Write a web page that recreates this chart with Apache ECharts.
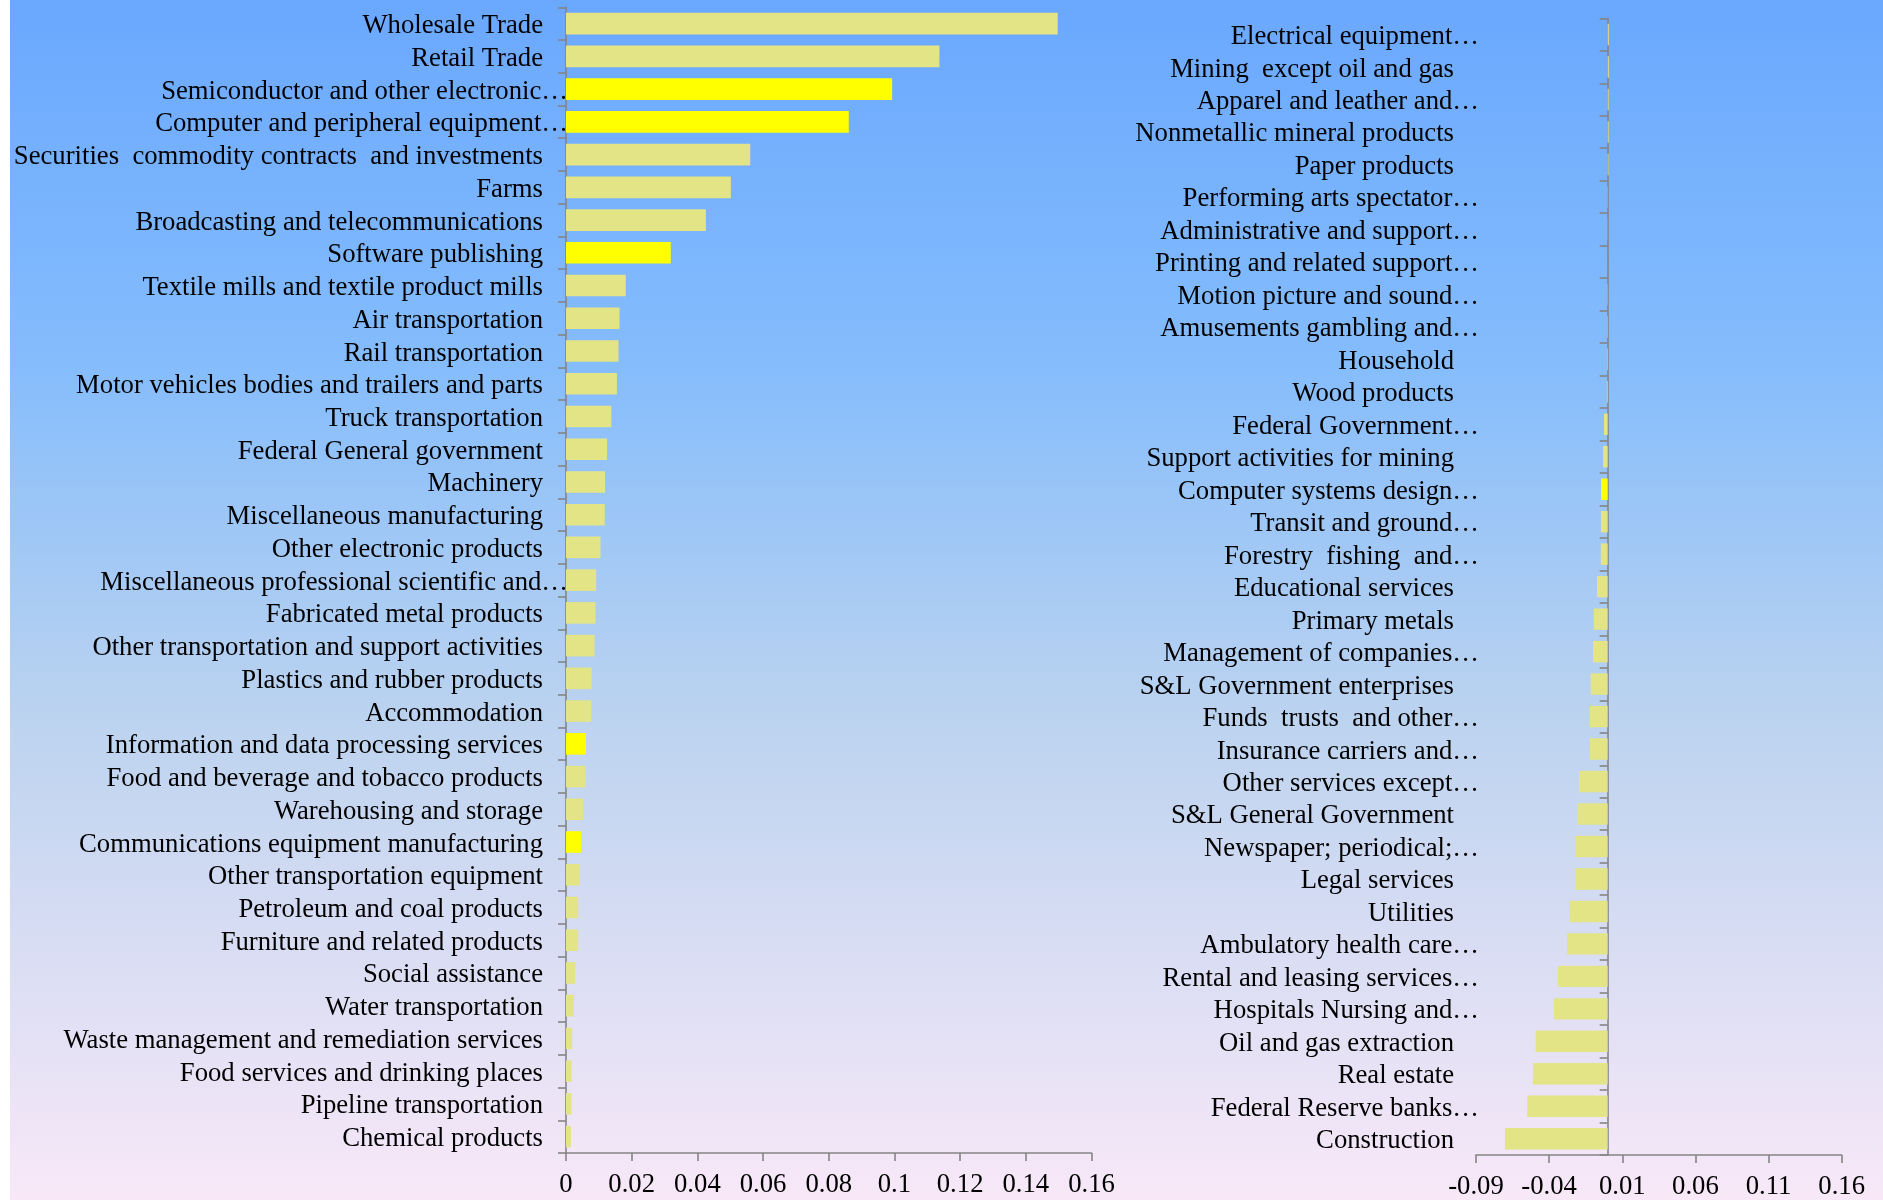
<!DOCTYPE html>
<html>
<head>
<meta charset="utf-8">
<script src="https://cdn.jsdelivr.net/npm/echarts@6/dist/echarts.min.js"></script>
<style>
  html, body { margin: 0; padding: 0; background: #ffffff; }
  #main { position: absolute; left: 10px; top: 0; width: 1873px; height: 1200px; }
</style>
</head>
<body>
<div id="main"></div>
<script>
// industries with positive contribution (left panel)
var leftCategories = [
    'Wholesale Trade', 'Retail Trade', 'Semiconductor and other electronic…',
    'Computer and peripheral equipment…', 'Securities  commodity contracts  and investments',
    'Farms', 'Broadcasting and telecommunications', 'Software publishing',
    'Textile mills and textile product mills', 'Air transportation', 'Rail transportation',
    'Motor vehicles bodies and trailers and parts', 'Truck transportation',
    'Federal General government', 'Machinery', 'Miscellaneous manufacturing',
    'Other electronic products', 'Miscellaneous professional scientific and…',
    'Fabricated metal products', 'Other transportation and support activities',
    'Plastics and rubber products', 'Accommodation', 'Information and data processing services',
    'Food and beverage and tobacco products', 'Warehousing and storage',
    'Communications equipment manufacturing', 'Other transportation equipment',
    'Petroleum and coal products', 'Furniture and related products', 'Social assistance',
    'Water transportation', 'Waste management and remediation services',
    'Food services and drinking places', 'Pipeline transportation', 'Chemical products'
];
var leftValues = [
    0.1497, 0.1137, 0.0993, 0.0861, 0.0561, 0.0502, 0.0426, 0.0319, 0.0182, 0.0163,
    0.0160, 0.0155, 0.0138, 0.0125, 0.0119, 0.0118, 0.0105, 0.0092, 0.0090, 0.0087,
    0.0078, 0.0077, 0.0061, 0.0059, 0.0052, 0.0046, 0.0043, 0.0037, 0.0037, 0.0028,
    0.0024, 0.0019, 0.0017, 0.0017, 0.0015
];
var leftHighlight = [
    'Semiconductor and other electronic…', 'Computer and peripheral equipment…',
    'Software publishing', 'Information and data processing services',
    'Communications equipment manufacturing'
];

// industries near zero / negative (right panel)
var rightCategories = [
    'Electrical equipment…', 'Mining  except oil and gas', 'Apparel and leather and…',
    'Nonmetallic mineral products', 'Paper products', 'Performing arts spectator…',
    'Administrative and support…', 'Printing and related support…', 'Motion picture and sound…',
    'Amusements gambling and…', 'Household', 'Wood products', 'Federal Government…',
    'Support activities for mining', 'Computer systems design…', 'Transit and ground…',
    'Forestry  fishing  and…', 'Educational services', 'Primary metals',
    'Management of companies…', 'S&L Government enterprises', 'Funds  trusts  and other…',
    'Insurance carriers and…', 'Other services except…', 'S&L General Government',
    'Newspaper; periodical;…', 'Legal services', 'Utilities', 'Ambulatory health care…',
    'Rental and leasing services…', 'Hospitals Nursing and…', 'Oil and gas extraction',
    'Real estate', 'Federal Reserve banks…', 'Construction'
];
var rightValues = [
    0.0008, 0.0008, 0.0007, 0.0007, 0.0006, 0.0002, 0.0001, 0.0000, -0.0002, -0.0003,
    -0.0004, -0.0005, -0.0025, -0.0031, -0.0045, -0.0046, -0.0047, -0.0073, -0.0095, -0.0100,
    -0.0116, -0.0121, -0.0122, -0.0196, -0.0205, -0.0221, -0.0222, -0.0260, -0.0278, -0.0340,
    -0.0367, -0.0492, -0.0511, -0.0550, -0.0702
];
var rightHighlight = ['Computer systems design…'];

var rightTicks = [-0.09, -0.04, 0.01, 0.06, 0.11, 0.16];

var dom = document.getElementById('main');
var myChart = echarts.init(dom, null, { renderer: 'canvas' });

var font = "'Liberation Serif', 'Times New Roman', serif";
var fs = 26.7;
var axisGray = '#858585';
var barColor = '#e3e486';
var hiColor = '#ffff00';

function catLabel(v) {
    // labels cut with an ellipsis sit a bit further right than full ones
    if (v.slice(-1) === '…') return '{e|' + v + '}';
    return '{n|' + v + '}';
}
var richText = {
    e: { fontSize: fs, fontFamily: font, color: '#000', padding: [5, 0, 0, 0] },
    n: { fontSize: fs, fontFamily: font, color: '#000', padding: [5, 25, 0, 0] }
};

function barData(cats, vals, hi) {
    return vals.map(function (v, i) {
        return {
            value: v,
            itemStyle: { color: hi.indexOf(cats[i]) >= 0 ? hiColor : barColor }
        };
    });
}

option = {
    backgroundColor: new echarts.graphic.LinearGradient(0, 0, 0, 1, [
        { offset: 0, color: '#6aa8fe' },
        { offset: 0.3, color: '#84bcfc' },
        { offset: 0.6, color: '#bcd3ef' },
        { offset: 1, color: '#f8e8f8' }
    ]),
    animation: false,
    grid: [
        { left: 556, top: 7.3, width: 525.5, height: 1145.7, containLabel: false, outerBoundsMode: 'none' },
        { left: 1466, top: 18.3, width: 365.7, height: 1136.7, containLabel: false, outerBoundsMode: 'none' }
    ],
    xAxis: [
        {
            gridIndex: 0,
            type: 'value',
            min: 0,
            max: 0.16,
            interval: 0.02,
            splitLine: { show: false },
            axisLine: { show: true, onZero: false, lineStyle: { color: axisGray, width: 1.6 } },
            axisTick: { show: true, length: 8, lineStyle: { color: axisGray, width: 1.6 } },
            axisLabel: { fontSize: fs, fontFamily: font, color: '#000', margin: 18 }
        },
        {
            gridIndex: 1,
            type: 'value',
            min: -0.09,
            max: 0.16,
            splitLine: { show: false },
            axisLine: { show: true, onZero: false, lineStyle: { color: axisGray, width: 1.6 } },
            axisTick: { show: true, length: 8, customValues: rightTicks, lineStyle: { color: axisGray, width: 1.6 } },
            axisLabel: { fontSize: fs, fontFamily: font, color: '#000', margin: 18, customValues: rightTicks }
        }
    ],
    yAxis: [
        {
            gridIndex: 0,
            type: 'category',
            inverse: true,
            data: leftCategories,
            axisLine: { show: true, onZero: false, lineStyle: { color: axisGray, width: 1.6 } },
            axisTick: { show: true, length: 8, lineStyle: { color: axisGray, width: 1.6 } },
            axisLabel: { interval: 0, margin: -2, formatter: catLabel, rich: richText, fontSize: fs, fontFamily: font, color: '#000' }
        },
        {
            gridIndex: 1,
            type: 'category',
            inverse: true,
            data: rightCategories,
            axisLine: { show: true, onZero: true, lineStyle: { color: axisGray, width: 1.6 } },
            axisTick: { show: true, length: 8, lineStyle: { color: axisGray, width: 1.6 } },
            axisLabel: { interval: 0, margin: -3, formatter: catLabel, rich: richText, fontSize: fs, fontFamily: font, color: '#000' }
        }
    ],
    series: [
        {
            name: 'positive',
            type: 'bar',
            xAxisIndex: 0,
            yAxisIndex: 0,
            barCategoryGap: '34%',
            data: barData(leftCategories, leftValues, leftHighlight)
        },
        {
            name: 'negative',
            type: 'bar',
            xAxisIndex: 1,
            yAxisIndex: 1,
            barCategoryGap: '34%',
            data: barData(rightCategories, rightValues, rightHighlight)
        }
    ]
};

if (option && typeof option === 'object') {
    myChart.setOption(option, true);
}

window.addEventListener('resize', function () {
    myChart.resize();
});
</script>
</body>
</html>
